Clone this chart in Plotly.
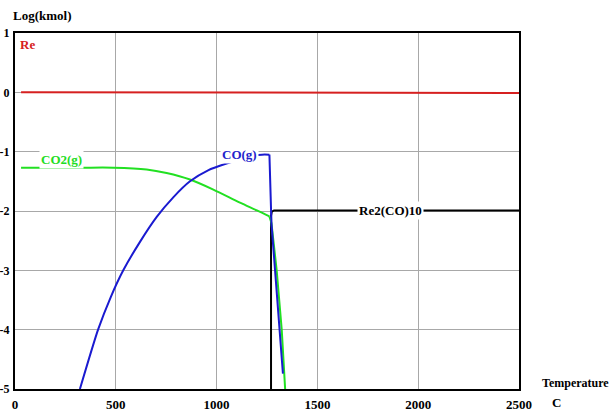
import plotly.graph_objects as go

# ---- data ----
re_T = [30, 1260, 1270, 2500]
re_y = [0.0, 0.0, -0.01, -0.01]

# smooth parts of the curves
co2_T = [30, 322, 488, 653, 752, 868, 984, 1116, 1200, 1262]
co2_y = [-1.27, -1.27, -1.27, -1.30, -1.36, -1.47, -1.64, -1.86, -1.99, -2.09]
# steep drop of CO2(g)
co2_drop_T = [1262, 1272, 1280, 1298, 1323, 1340]
co2_drop_y = [-2.09, -2.2, -2.45, -3.0, -4.0, -5.0]

co_T = [322, 412, 475, 537, 620, 703, 785, 868, 960, 1058, 1120, 1180, 1225, 1262]
co_y = [-5.0, -4.0, -3.45, -3.0, -2.52, -2.1, -1.77, -1.5, -1.31, -1.19, -1.12, -1.07, -1.05, -1.05]
co_drop_T = [1262, 1266, 1272, 1290, 1314, 1329]
co_drop_y = [-1.05, -1.5, -2.2, -3.0, -4.0, -4.74]

re2co10_T = [1270, 1270, 1274, 1285, 2500]
re2co10_y = [-5.3, -2.08, -2.01, -1.99, -1.99]

x_ticks = [0, 500, 1000, 1500, 2000, 2500]
y_ticks = [1, 0, -1, -2, -3, -4, -5]
y_ticktext = ["1", "0", "-1", "-2", "-3", "-4", "-5"]

labels = [
    ("Re", 15, 0.81, "#d62020", "left"),
    ("CO2(g)", 233, -1.14, "#22dd22", "center"),
    ("CO(g)", 1116, -1.05, "#2222cc", "center"),
    ("Re2(CO)10", 1865, -1.99, "#000000", "center"),
]

font_family = "Liberation Serif, Times New Roman, serif"
RED, GREEN, BLUE = "#d62020", "#22e022", "#1a1ad0"

fig = go.Figure()
fig.add_trace(go.Scatter(x=re_T, y=re_y, mode="lines", line=dict(color=RED, width=2), showlegend=False))
fig.add_trace(go.Scatter(x=co2_T, y=co2_y, mode="lines", line=dict(color=GREEN, width=2, shape="spline", smoothing=0.8), showlegend=False))
fig.add_trace(go.Scatter(x=co_T, y=co_y, mode="lines", line=dict(color=BLUE, width=2, shape="spline", smoothing=0.6), showlegend=False))
fig.add_trace(go.Scatter(x=re2co10_T, y=re2co10_y, mode="lines", line=dict(color="#000000", width=2), showlegend=False))
fig.add_trace(go.Scatter(x=co2_drop_T, y=co2_drop_y, mode="lines", line=dict(color=GREEN, width=2), showlegend=False))
fig.add_trace(go.Scatter(x=co_drop_T, y=co_drop_y, mode="lines", line=dict(color=BLUE, width=2), showlegend=False))

for text, x, y, color, anchor in labels:
    fig.add_annotation(x=x, y=y, text="<b>%s</b>" % text, showarrow=False,
                       xanchor=anchor, yanchor="middle",
                       font=dict(family=font_family, size=13, color=color),
                       bgcolor="white", borderpad=1)

fig.add_annotation(xref="paper", yref="paper", x=-0.008, y=1.048, xanchor="left", yanchor="middle",
                   text="<b>Log(kmol)</b>", showarrow=False,
                   font=dict(family=font_family, size=13, color="black"))
fig.add_annotation(xref="paper", yref="paper", x=1.042, y=0.017, xanchor="left", yanchor="middle",
                   text="<b>Temperature</b>", showarrow=False,
                   font=dict(family=font_family, size=12, color="black"))
fig.add_annotation(xref="paper", yref="paper", x=1.061, y=-0.039, xanchor="left", yanchor="middle",
                   text="<b>C</b>", showarrow=False,
                   font=dict(family=font_family, size=13, color="black"))

fig.update_xaxes(range=[0, 2500], tickvals=x_ticks, ticktext=["<b>%d</b>" % v for v in x_ticks],
                 showgrid=True, gridcolor="#a8a8a8", gridwidth=1,
                 showline=True, linecolor="black", linewidth=2, mirror=True,
                 zeroline=False, ticks="", ticklabelstandoff=2,
                 tickfont=dict(family=font_family, size=13, color="black"))
fig.update_yaxes(range=[-5, 1], tickvals=y_ticks, ticktext=["<b>%s</b>" % t for t in y_ticktext],
                 showgrid=True, gridcolor="#a8a8a8", gridwidth=1,
                 showline=True, linecolor="black", linewidth=2, mirror=True,
                 zeroline=False, ticks="", ticklabelstandoff=1, automargin=False,
                 tickfont=dict(family=font_family, size=12, color="black"))

fig.update_layout(width=613, height=412,
                  margin=dict(l=15, r=94, t=33, b=23, autoexpand=False),
                  paper_bgcolor="white", plot_bgcolor="white")

fig.write_html("out.html", config={"displayModeBar": False},
               post_script="document.body.style.margin='0';document.body.style.overflow='hidden';")
